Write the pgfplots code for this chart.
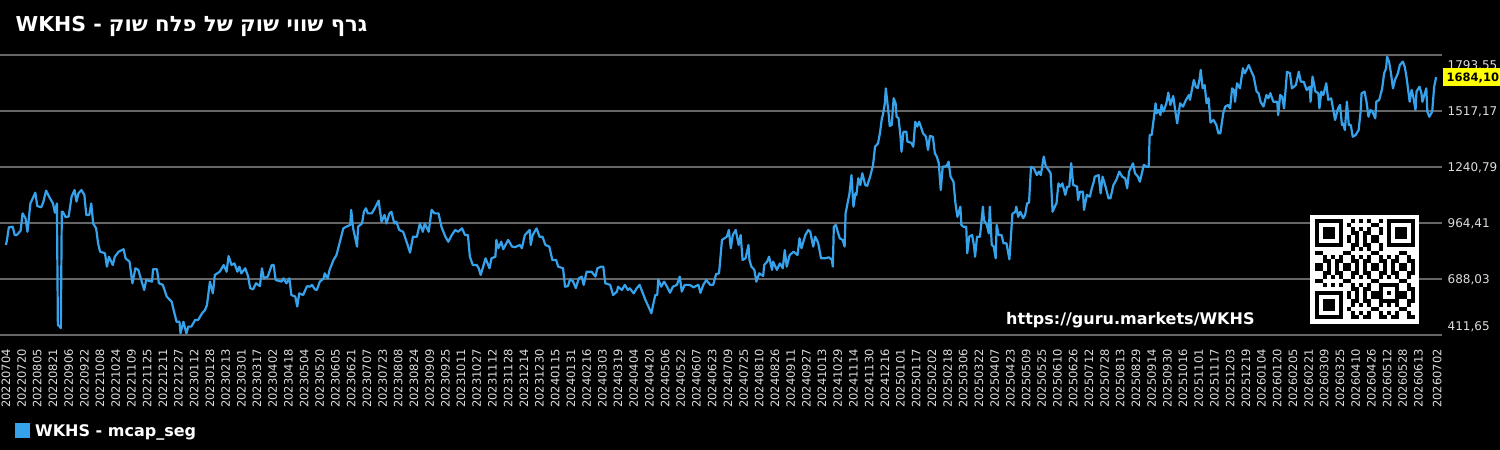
\documentclass[border=0pt]{standalone}
\usepackage{pgfplots}
\pgfplotsset{compat=1.18}
\usepackage{pgfplotstable}
\usepackage{fontspec}
\setmainfont{DejaVu Sans}
\newfontfamily\hebfont[Script=Hebrew]{DejaVu Sans}
\TeXXeTstate=1
\definecolor{lineblue}{HTML}{36A2EB}
\definecolor{gridgray}{HTML}{666666}
\definecolor{tickgray}{HTML}{DDDDDD}
\definecolor{lastyellow}{HTML}{FFFF00}

\pgfplotstableread{
day value
0 856
1 877
3 943
7 946
9 905
11 905
15 926
17 1012
20 988
22 921
25 1061
30 1114
32 1048
36 1042
38 1065
41 1124
45 1086
48 1061
50 1015
52 1061
53 461
55 453
56 445
57 1020
58 1020
61 993
64 997
67 1095
70 1127
72 1070
74 1111
77 1127
80 1103
82 1004
85 1004
87 1061
89 962
92 938
94 864
96 823
101 815
103 749
105 798
109 757
111 798
115 823
120 835
122 790
126 774
129 667
132 741
135 733
138 683
141 634
143 683
149 675
150 736
154 736
156 667
160 659
164 601
169 576
171 535
174 477
177 477
178 420
181 477
184 420
186 453
189 453
193 486
196 486
200 519
203 535
205 560
208 675
211 617
213 708
218 724
222 757
225 724
227 801
230 757
233 765
236 724
238 749
240 716
244 741
247 700
249 643
252 637
255 667
259 653
261 741
263 691
267 700
271 757
273 757
275 683
281 675
283 691
286 667
289 691
291 609
295 601
297 552
299 617
303 609
307 653
310 650
312 659
315 637
317 634
320 675
324 691
325 716
328 691
330 733
334 782
337 806
341 881
344 938
347 946
351 955
352 1029
354 938
358 848
359 946
363 962
365 1020
367 1037
369 1012
373 1012
376 1037
380 1075
381 1037
383 971
386 1004
388 962
391 1012
393 1020
396 962
398 971
401 930
405 921
409 864
412 818
415 897
419 897
422 962
425 921
427 962
431 921
434 1029
437 1012
441 1012
444 946
448 897
451 872
454 900
458 930
461 921
465 938
468 905
471 905
473 798
476 757
480 757
482 741
484 708
487 757
489 790
493 741
495 790
499 798
500 881
502 840
505 872
507 835
512 881
516 848
519 845
524 856
526 840
529 905
534 930
535 856
537 905
541 938
544 897
547 897
550 856
554 848
557 782
561 782
563 749
568 741
570 650
573 653
575 686
578 678
581 643
584 691
587 700
589 659
592 724
597 724
601 700
603 741
607 749
609 749
611 667
616 659
619 609
623 626
624 650
628 634
631 659
634 634
636 642
640 617
643 642
646 659
648 634
652 584
655 552
658 519
662 609
664 609
665 686
668 650
671 675
674 650
677 620
680 650
684 659
687 700
689 626
692 659
697 659
701 647
706 659
708 620
711 659
714 683
718 659
721 659
724 712
727 716
730 881
735 897
737 930
739 840
741 905
744 930
747 856
749 905
751 782
754 790
757 856
758 782
760 749
763 733
765 675
768 716
772 703
773 757
776 774
778 798
781 733
782 774
786 733
789 765
792 741
794 831
796 749
799 806
803 823
807 806
809 889
811 840
815 905
818 930
820 921
823 848
825 897
828 867
831 790
835 790
839 795
842 782
843 749
844 946
846 955
850 889
853 881
855 848
856 1012
860 1111
862 1201
864 1045
866 1111
867 1103
869 1185
871 1152
873 1210
876 1152
878 1148
881 1193
884 1251
886 1341
889 1357
891 1407
893 1481
894 1497
896 1555
897 1629
900 1497
901 1443
903 1448
905 1580
907 1555
908 1489
910 1481
912 1390
913 1316
915 1415
918 1415
919 1366
923 1360
925 1341
927 1464
929 1440
931 1464
935 1407
938 1390
940 1325
942 1394
945 1390
947 1308
949 1292
951 1259
953 1127
955 1242
959 1245
961 1267
963 1193
966 1168
968 1061
970 995
973 1045
974 955
976 946
979 946
980 815
982 897
985 905
987 848
988 798
990 897
993 897
996 1045
997 979
1000 955
1002 913
1003 1045
1005 856
1007 848
1009 790
1010 955
1012 905
1015 905
1017 864
1020 864
1023 785
1025 930
1026 1009
1029 1020
1030 1045
1032 995
1034 1020
1037 988
1039 1004
1041 1061
1043 1065
1045 1242
1048 1234
1051 1201
1053 1218
1055 1201
1058 1292
1060 1246
1063 1226
1065 1210
1067 1020
1070 1053
1071 1061
1073 1160
1075 1144
1077 1160
1080 1103
1082 1144
1084 1144
1086 1259
1088 1152
1092 1144
1093 1078
1095 1119
1098 1119
1099 1029
1102 1103
1105 1094
1107 1136
1109 1168
1110 1193
1114 1201
1116 1111
1118 1193
1121 1144
1124 1086
1126 1086
1129 1152
1132 1177
1135 1218
1138 1193
1141 1185
1143 1136
1145 1218
1149 1259
1151 1210
1154 1193
1156 1168
1160 1251
1163 1242
1165 1242
1166 1399
1168 1399
1170 1473
1172 1555
1173 1506
1175 1522
1177 1497
1178 1547
1180 1514
1183 1555
1185 1608
1187 1547
1190 1591
1192 1522
1194 1456
1197 1555
1200 1539
1203 1572
1206 1596
1207 1572
1211 1670
1213 1637
1215 1630
1217 1678
1218 1720
1220 1629
1222 1645
1224 1555
1226 1580
1228 1460
1231 1473
1234 1448
1236 1407
1238 1407
1241 1506
1243 1539
1246 1547
1248 1530
1250 1629
1252 1620
1253 1563
1255 1654
1258 1629
1261 1728
1263 1703
1267 1744
1269 1720
1272 1687
1275 1613
1277 1605
1279 1563
1282 1539
1285 1596
1287 1580
1289 1605
1292 1563
1296 1563
1297 1497
1299 1596
1301 1588
1303 1530
1306 1711
1309 1703
1311 1629
1315 1645
1318 1711
1320 1662
1323 1662
1326 1621
1329 1637
1330 1563
1332 1687
1335 1613
1338 1605
1339 1530
1341 1613
1343 1596
1346 1654
1348 1572
1351 1580
1355 1473
1358 1530
1360 1547
1362 1448
1363 1456
1365 1423
1367 1563
1369 1448
1371 1448
1373 1390
1376 1399
1379 1423
1381 1514
1382 1604
1385 1613
1387 1563
1389 1489
1391 1522
1393 1514
1396 1481
1397 1563
1400 1572
1403 1629
1405 1703
1407 1728
1408 1785
1410 1761
1412 1703
1414 1629
1416 1670
1419 1703
1421 1744
1424 1761
1426 1736
1428 1678
1431 1563
1433 1621
1435 1580
1437 1522
1438 1613
1441 1637
1443 1605
1444 1563
1446 1596
1448 1629
1449 1514
1451 1489
1454 1514
1456 1637
1458 1684.10
}\mcapdata

\begin{document}
\begin{tikzpicture}
\useasboundingbox (0pt,-115pt) rectangle (1500pt,335pt);
\fill[black] (0pt,-115pt) rectangle (1500pt,335pt);
\begin{axis}[
  at={(0pt,0pt)}, anchor=south west,
  scale only axis, width=1442pt, height=280pt,
  xmin=-6, xmax=1464,
  ymin=411.65, ymax=1793.55,
  clip=false,
  axis line style={draw=none},
  major tick length=0pt,
  tick style={draw=none},
  ymajorgrids, xmajorgrids=false,
  major grid style={line width=1.5pt, color=gridgray},
  ytick={411.65,688.03,964.41,1240.79,1517.17,1793.55},
  yticklabels={{\raisebox{9pt}[\height][\depth]{411,65}},{688,03},{964,41},{1240,79},{1517,17},{\raisebox{-10pt}[\height][\depth]{1793,55}}},
  yticklabel pos=right,
  yticklabel style={anchor=west, inner sep=0pt, xshift=5.5pt, text depth=0pt, text=tickgray, font=\fontsize{12}{14}\selectfont},
  xtick={0,16,32,48,64,80,96,112,128,144,160,176,192,208,224,240,256,272,288,304,320,336,352,368,384,400,416,432,448,464,480,496,512,528,544,560,576,592,608,624,640,656,672,688,704,720,736,752,768,784,800,816,832,848,864,880,896,912,928,944,960,976,992,1008,1024,1040,1056,1072,1088,1104,1120,1136,1152,1168,1184,1200,1216,1232,1248,1264,1280,1296,1312,1328,1344,1360,1376,1392,1408,1424,1440,1459},
  xticklabels={20220704,20220720,20220805,20220821,20220906,20220922,20221008,20221024,20221109,20221125,20221211,20221227,20230112,20230128,20230213,20230301,20230317,20230402,20230418,20230504,20230520,20230605,20230621,20230707,20230723,20230808,20230824,20230909,20230925,20231011,20231027,20231112,20231128,20231214,20231230,20240115,20240131,20240216,20240303,20240319,20240404,20240420,20240506,20240522,20240607,20240623,20240709,20240725,20240810,20240826,20240911,20240927,20241013,20241029,20241114,20241130,20241216,20250101,20250117,20250202,20250218,20250306,20250322,20250407,20250423,20250509,20250525,20250610,20250626,20250712,20250728,20250813,20250829,20250914,20250930,20251016,20251101,20251117,20251203,20251219,20260104,20260120,20260205,20260221,20260309,20260325,20260410,20260426,20260512,20260528,20260613,20260702},
  xticklabel style={rotate=90, anchor=east, inner sep=0pt, text=tickgray, font=\fontsize{11.5}{13}\selectfont},
  xticklabel shift=14pt,
]
\addplot[color=lineblue, line width=2.2pt, line join=round, mark=none] table[x=day, y=value] {\mcapdata};
\node[anchor=west, fill=lastyellow, text=black, inner xsep=4pt, inner ysep=5pt, text depth=0pt, font=\bfseries\fontsize{11.5}{13}\selectfont, xshift=0.5pt] at (axis cs:1464,1684.10) {1684,10};
\end{axis}
\begin{scope}[x=1pt, y=1pt]
  % QR code
  \fill[white] (1310,11) rectangle (1419,120);
  \foreach \r in {0,...,24}{
    \foreach \c in {0,...,24}{
      \pgfmathtruncatemacro{\sk}{((\r<8)&&(\c<8))||((\r<8)&&(\c>16))||((\r>16)&&(\c<8))||((\r>15)&&(\r<21)&&(\c>15)&&(\c<21))}
      \pgfmathtruncatemacro{\v}{mod(3*\r*\r+5*\c*\c+7*\r*\c+\r+2*\c+11,7)}
      \ifnum\sk=0 \ifnum\v<3 \fill[black] (1314.5+4*\c,115.5-4*\r) rectangle ++(4,-4); \fi\fi
    }
  }
  \foreach \fr/\fc in {0/0,0/18,18/0}{
    \fill[black] (1314.5+4*\fc,115.5-4*\fr) rectangle ++(28,-28);
    \fill[white] (1318.5+4*\fc,111.5-4*\fr) rectangle ++(20,-20);
    \fill[black] (1322.5+4*\fc,107.5-4*\fr) rectangle ++(12,-12);
  }
  \fill[black] (1314.5+64,115.5-64) rectangle ++(20,-20);
  \fill[white] (1314.5+68,115.5-68) rectangle ++(12,-12);
  \fill[black] (1314.5+72,115.5-72) rectangle ++(4,-4);
  % watermark
  \node[anchor=base west, inner sep=0pt, text=white, font=\bfseries\fontsize{16}{19}\selectfont] at (1006,10) {https://guru.markets/WKHS};
  % title
  \node[anchor=base west, inner sep=0pt, text=white, font=\bfseries\fontsize{20.5}{24}\selectfont] at (15.5,303.3) {WKHS - {\hebfont\fontsize{21.2}{24}\selectfont\beginR גרף שווי שוק של פלח שוק\endR}};
  % legend
  \fill[lineblue] (15,-88) rectangle (30,-103);
  \node[anchor=base west, inner sep=0pt, text=white, font=\bfseries\fontsize{16}{19}\selectfont] at (35,-101) {WKHS - mcap\_seg};
\end{scope}
\end{tikzpicture}
\end{document}
